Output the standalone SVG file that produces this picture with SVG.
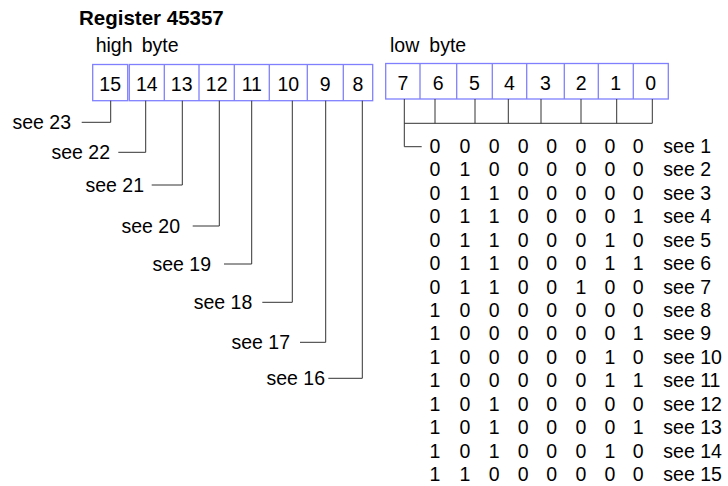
<svg xmlns="http://www.w3.org/2000/svg" width="728" height="486" viewBox="0 0 728 486">
<style>
text{font-family:"Liberation Sans",Arial,sans-serif;font-size:19.5px;fill:#000}
.t{font-weight:bold;font-size:20.5px}
.c{text-anchor:middle}
.e{text-anchor:end}
.box{fill:#fff;stroke:#8080ff;stroke-width:1.3}
.div{stroke:#8080ff;stroke-width:1.3}
.ln{fill:none;stroke:#333;stroke-width:1}
</style>
<rect width="728" height="486" fill="#fff"/>
<g id="title">
<text class="t" x="79" y="25">Register 45357</text>
<text x="95.7" y="52">high</text><text x="141.7" y="52">byte</text>
<text x="390" y="52">low</text><text x="429.3" y="52">byte</text>
</g>
<g id="high-byte">
<rect class="box" x="92.7" y="64.5" width="35" height="36.2"/>
<rect class="box" x="129.3" y="64.5" width="243.4" height="36.2"/>
<path class="div" d="M164.3 64.5V100.7M199 64.5V100.7M234.3 64.5V100.7M269.3 64.5V100.7M307.3 64.5V100.7M343.3 64.5V100.7"/>
<text class="c" x="110.2" y="91">15</text>
<text class="c" x="146.8" y="91">14</text>
<text class="c" x="181.7" y="91">13</text>
<text class="c" x="216.7" y="91">12</text>
<text class="c" x="251.8" y="91">11</text>
<text class="c" x="288.3" y="91">10</text>
<text class="c" x="325.3" y="91">9</text>
<text class="c" x="358" y="91">8</text>
</g>
<g id="low-byte">
<rect class="box" x="385.7" y="63.5" width="282.6" height="35.5"/>
<path class="div" d="M420 63.5V99M456.7 63.5V99M492.3 63.5V99M526.7 63.5V99M564.3 63.5V99M598.3 63.5V99M633.3 63.5V99"/>
<text class="c" x="403" y="90">7</text>
<text class="c" x="438.3" y="90">6</text>
<text class="c" x="474.5" y="90">5</text>
<text class="c" x="509.5" y="90">4</text>
<text class="c" x="545.5" y="90">3</text>
<text class="c" x="581.3" y="90">2</text>
<text class="c" x="615.8" y="90">1</text>
<text class="c" x="650.8" y="90">0</text>
</g>
<g id="connectors">
<path class="ln" d="M110.7 100.7V122.3H81.7"/>
<path class="ln" d="M145.7 100.7V152.3H118.3"/>
<path class="ln" d="M182.3 100.7V185H151.7"/>
<path class="ln" d="M219.3 100.7V226H192.7"/>
<path class="ln" d="M251.7 100.7V264H224"/>
<path class="ln" d="M292.3 100.7V302.3H262.3"/>
<path class="ln" d="M325.7 100.7V342.3H300"/>
<path class="ln" d="M362.3 100.7V378.3H328.3"/>
<path class="ln" d="M404.3 99V146.7H421.7"/>
<path class="ln" d="M404.3 123.3H652.3M435 99V123.3M475 99V123.3M508.3 99V123.3M541 99V123.3M581 99V123.3M616.7 99V123.3M652.3 99V123.3"/>
</g>
<g id="high-labels">
<text class="e" x="71" y="129.3">see 23</text>
<text class="e" x="110" y="159.3">see 22</text>
<text class="e" x="144" y="192">see 21</text>
<text class="e" x="180" y="233">see 20</text>
<text class="e" x="211" y="271">see 19</text>
<text class="e" x="252.3" y="309.3">see 18</text>
<text class="e" x="290" y="349.3">see 17</text>
<text class="e" x="325" y="385.3">see 16</text>
</g>
<g id="table">
<g class="c">
<text x="435" y="153">0</text><text x="465" y="153">0</text><text x="494.3" y="153">0</text><text x="523.3" y="153">0</text><text x="551.7" y="153">0</text><text x="581" y="153">0</text><text x="610" y="153">0</text><text x="638.3" y="153">0</text>
<text x="435" y="176.4">0</text><text x="465" y="176.4">1</text><text x="494.3" y="176.4">0</text><text x="523.3" y="176.4">0</text><text x="551.7" y="176.4">0</text><text x="581" y="176.4">0</text><text x="610" y="176.4">0</text><text x="638.3" y="176.4">0</text>
<text x="435" y="199.9">0</text><text x="465" y="199.9">1</text><text x="494.3" y="199.9">1</text><text x="523.3" y="199.9">0</text><text x="551.7" y="199.9">0</text><text x="581" y="199.9">0</text><text x="610" y="199.9">0</text><text x="638.3" y="199.9">0</text>
<text x="435" y="223.3">0</text><text x="465" y="223.3">1</text><text x="494.3" y="223.3">1</text><text x="523.3" y="223.3">0</text><text x="551.7" y="223.3">0</text><text x="581" y="223.3">0</text><text x="610" y="223.3">0</text><text x="638.3" y="223.3">1</text>
<text x="435" y="246.7">0</text><text x="465" y="246.7">1</text><text x="494.3" y="246.7">1</text><text x="523.3" y="246.7">0</text><text x="551.7" y="246.7">0</text><text x="581" y="246.7">0</text><text x="610" y="246.7">1</text><text x="638.3" y="246.7">0</text>
<text x="435" y="270.2">0</text><text x="465" y="270.2">1</text><text x="494.3" y="270.2">1</text><text x="523.3" y="270.2">0</text><text x="551.7" y="270.2">0</text><text x="581" y="270.2">0</text><text x="610" y="270.2">1</text><text x="638.3" y="270.2">1</text>
<text x="435" y="293.6">0</text><text x="465" y="293.6">1</text><text x="494.3" y="293.6">1</text><text x="523.3" y="293.6">0</text><text x="551.7" y="293.6">0</text><text x="581" y="293.6">1</text><text x="610" y="293.6">0</text><text x="638.3" y="293.6">0</text>
<text x="435" y="317">1</text><text x="465" y="317">0</text><text x="494.3" y="317">0</text><text x="523.3" y="317">0</text><text x="551.7" y="317">0</text><text x="581" y="317">0</text><text x="610" y="317">0</text><text x="638.3" y="317">0</text>
<text x="435" y="340.4">1</text><text x="465" y="340.4">0</text><text x="494.3" y="340.4">0</text><text x="523.3" y="340.4">0</text><text x="551.7" y="340.4">0</text><text x="581" y="340.4">0</text><text x="610" y="340.4">0</text><text x="638.3" y="340.4">1</text>
<text x="435" y="363.9">1</text><text x="465" y="363.9">0</text><text x="494.3" y="363.9">0</text><text x="523.3" y="363.9">0</text><text x="551.7" y="363.9">0</text><text x="581" y="363.9">0</text><text x="610" y="363.9">1</text><text x="638.3" y="363.9">0</text>
<text x="435" y="387.3">1</text><text x="465" y="387.3">0</text><text x="494.3" y="387.3">0</text><text x="523.3" y="387.3">0</text><text x="551.7" y="387.3">0</text><text x="581" y="387.3">0</text><text x="610" y="387.3">1</text><text x="638.3" y="387.3">1</text>
<text x="435" y="410.7">1</text><text x="465" y="410.7">0</text><text x="494.3" y="410.7">1</text><text x="523.3" y="410.7">0</text><text x="551.7" y="410.7">0</text><text x="581" y="410.7">0</text><text x="610" y="410.7">0</text><text x="638.3" y="410.7">0</text>
<text x="435" y="434.2">1</text><text x="465" y="434.2">0</text><text x="494.3" y="434.2">1</text><text x="523.3" y="434.2">0</text><text x="551.7" y="434.2">0</text><text x="581" y="434.2">0</text><text x="610" y="434.2">0</text><text x="638.3" y="434.2">1</text>
<text x="435" y="457.6">1</text><text x="465" y="457.6">0</text><text x="494.3" y="457.6">1</text><text x="523.3" y="457.6">0</text><text x="551.7" y="457.6">0</text><text x="581" y="457.6">0</text><text x="610" y="457.6">1</text><text x="638.3" y="457.6">0</text>
<text x="435" y="481">1</text><text x="465" y="481">1</text><text x="494.3" y="481">0</text><text x="523.3" y="481">0</text><text x="551.7" y="481">0</text><text x="581" y="481">0</text><text x="610" y="481">0</text><text x="638.3" y="481">0</text>
</g>
<text x="663.3" y="153">see 1</text>
<text x="663.3" y="176.4">see 2</text>
<text x="663.3" y="199.9">see 3</text>
<text x="663.3" y="223.3">see 4</text>
<text x="663.3" y="246.7">see 5</text>
<text x="663.3" y="270.2">see 6</text>
<text x="663.3" y="293.6">see 7</text>
<text x="663.3" y="317">see 8</text>
<text x="663.3" y="340.4">see 9</text>
<text x="663.3" y="363.9">see 10</text>
<text x="663.3" y="387.3">see 11</text>
<text x="663.3" y="410.7">see 12</text>
<text x="663.3" y="434.2">see 13</text>
<text x="663.3" y="457.6">see 14</text>
<text x="663.3" y="481">see 15</text>
</g>
</svg>
